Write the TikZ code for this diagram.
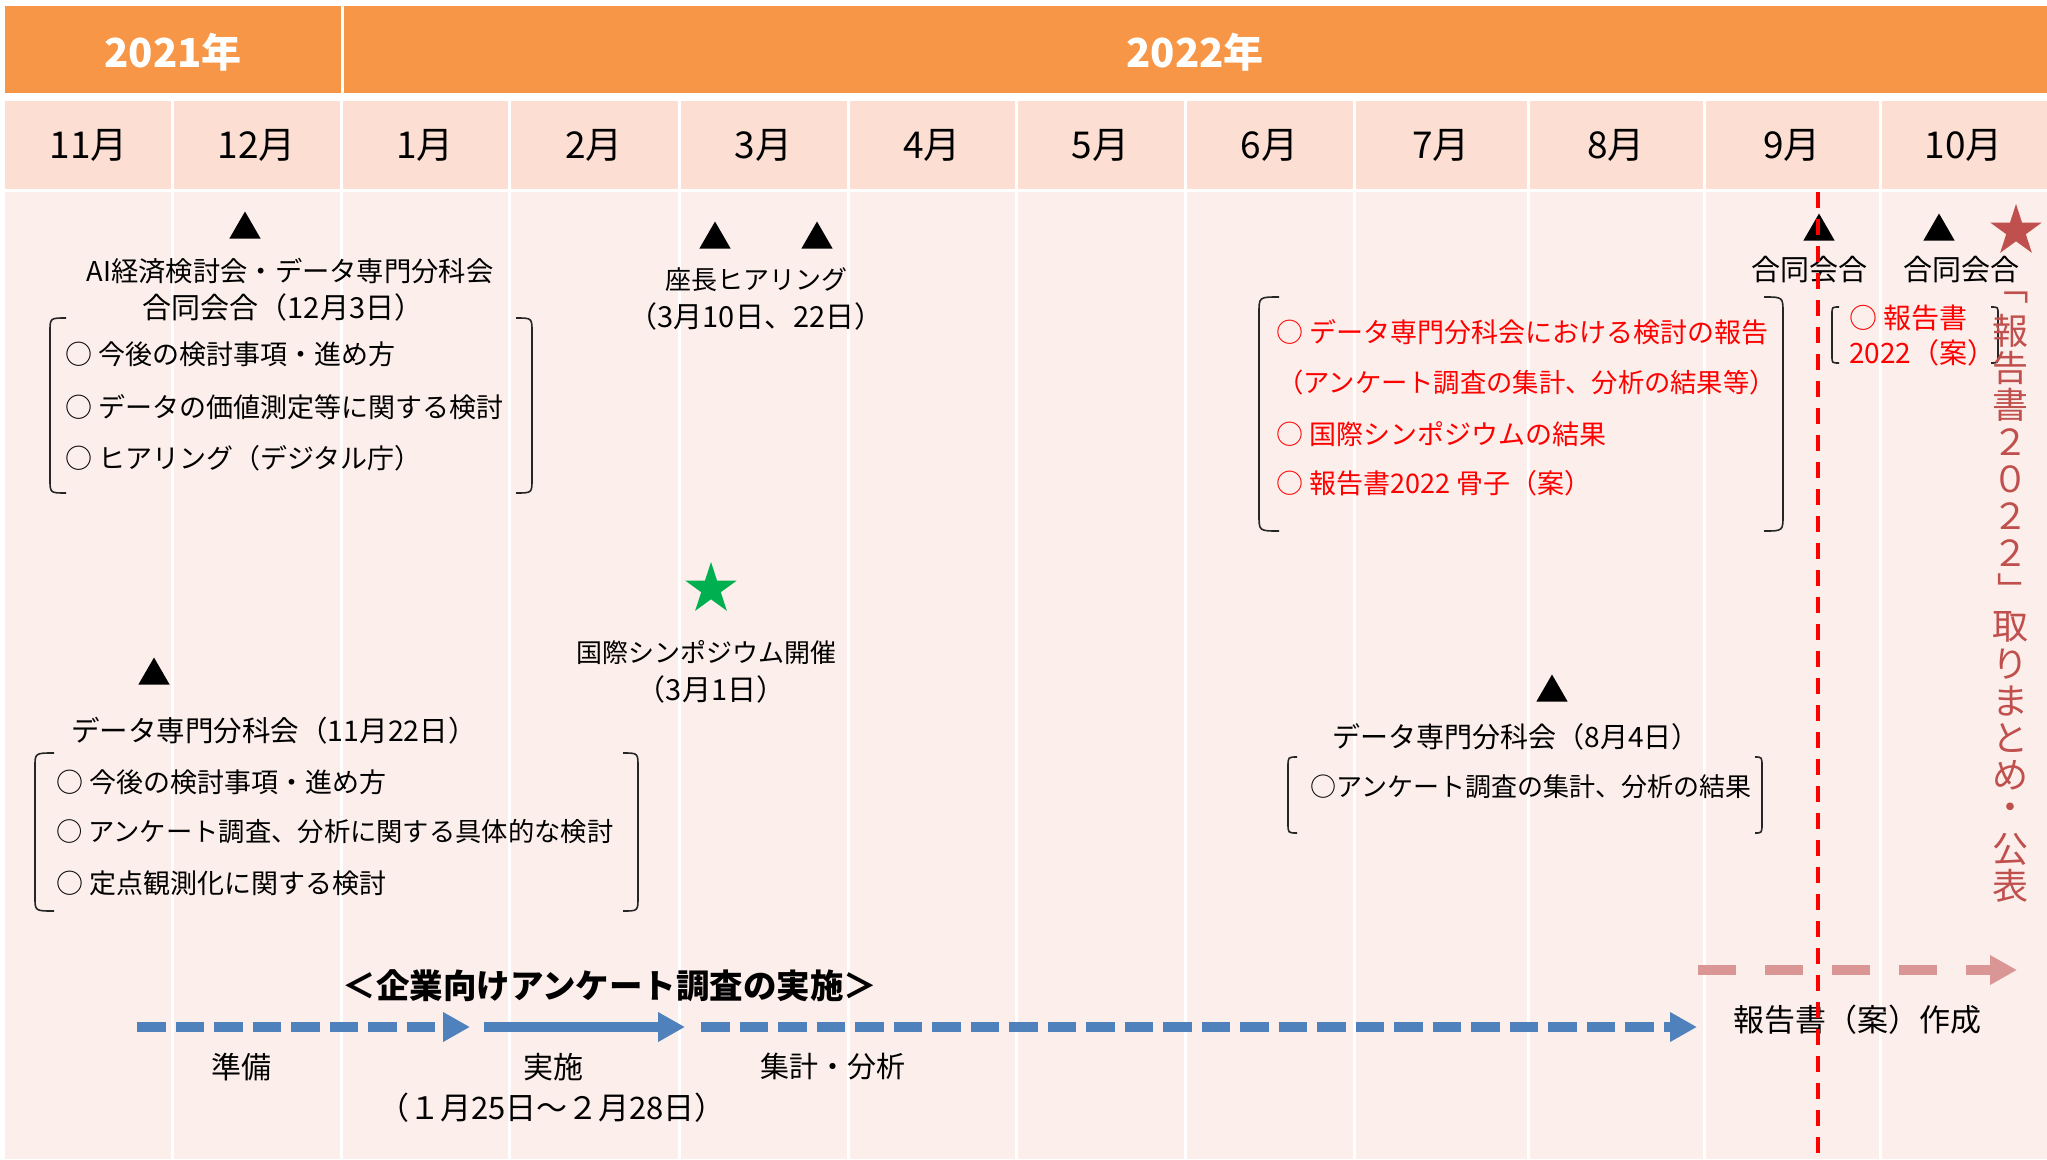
\documentclass[tikz,border=0pt]{standalone}
\usepackage{fontspec}
\setmainfont{Noto Sans CJK JP}
\usetikzlibrary{shapes.geometric,arrows.meta}
\definecolor{yearor}{HTML}{F79646}
\definecolor{monthbg}{HTML}{FCDED2}
\definecolor{bodybg}{HTML}{FCEFEB}
\definecolor{bluear}{HTML}{4F81BD}
\definecolor{pinkar}{HTML}{D99694}
\definecolor{repred}{HTML}{C0504D}
\definecolor{gstar}{HTML}{00B050}
\newcommand\bkpair[7]{%
  \draw[bk] (#2,#5) .. controls (#1,#5) .. (#1,#5+#7) -- (#1,#6-#7) .. controls (#1,#6) .. (#2,#6);
  \draw[bk] (#3,#5) .. controls (#4,#5) .. (#4,#5+#7) -- (#4,#6-#7) .. controls (#4,#6) .. (#3,#6);}
\begin{document}
\begin{tikzpicture}[x=1pt,y=-1pt,
  fs/.style={inner sep=0pt,font=\fontsize{#1}{#1}\selectfont},
  tri/.style={regular polygon,regular polygon sides=3,fill=black,draw=none,inner sep=0pt,minimum size=36pt},
  bk/.style={draw=black!85,line width=1.6pt},
  sep/.style={draw=white,line width=3pt},
  redtxt/.style={fs=27,text=red},
  vt/.style={fs=36,text=repred},
  bluedash/.style={draw=bluear,line width=10pt,dash pattern=on 28.5pt off 10pt,-{Triangle[length=27pt,width=28pt]}},
  bluesolid/.style={draw=bluear,line width=10pt,-{Triangle[length=27pt,width=28pt]}},
  pinkdash/.style={draw=pinkar,line width=10pt,dash pattern=on 38pt off 29pt,-{Triangle[length=27pt,width=28pt]}}]
\useasboundingbox (0,0) rectangle (2047,1159);
\fill[white] (0,0) rectangle (2047,1159);
% year band
\fill[yearor] (5,6) rectangle (2047,93);
\draw[sep] (342,6) -- (342,93);
\node[fs=40,font=\bfseries\fontsize{40}{40}\selectfont,text=white] (y21) at (173,52) {2021年};
\node[fs=40,font=\bfseries\fontsize{40}{40}\selectfont,text=white] (y22) at (1195,52) {2022年};
% month row and body
\fill[monthbg] (5,101) rectangle (2047,189);
\fill[bodybg] (5,192) rectangle (2047,1159);
\foreach \xb in {172,341,509,679,848,1016,1185,1354,1528,1704,1880} {
  \draw[sep] (\xb,101) -- (\xb,189);
  \draw[sep] (\xb,192) -- (\xb,1159);
}
\foreach \m/\xc in {11月/88.5,12月/256.5,1月/425,2月/594,3月/763.5,4月/932,5月/1100.5,6月/1269.5,7月/1441,8月/1616,9月/1792,10月/1963.5} {
  \node[fs=37] (m\xc) at (\xc,145) {\m};
}
% top-left group
\node[tri] (tA) at (245,229.5) {};
\node[fs=27.3] (aiA) at (290,271) {AI経済検討会・データ専門分科会};
\node[fs=29] (aiB) at (283,307) {合同会合（12月3日）};
\bkpair{50}{66}{516}{532}{318}{493}{14}
\node[fs=27,anchor=west] (aiC) at (65,354) {○ 今後の検討事項・進め方};
\node[fs=27,anchor=west] (aiD) at (65,407) {○ データの価値測定等に関する検討};
\node[fs=27,anchor=west] (aiE) at (65,458) {○ ヒアリング（デジタル庁）};
% March hearing
\node[tri] (tB) at (715,239.5) {};
\node[tri] (tC) at (817,239.5) {};
\node[fs=26] (zaA) at (756,280) {座長ヒアリング};
\node[fs=29] (zaB) at (756,316) {（3月10日、22日）};
% symposium
\node[star,star points=5,star point ratio=2.618,minimum size=54pt,inner sep=0pt,fill=gstar] (sG) at (711,589) {};
\node[fs=26] (syA) at (706,653) {国際シンポジウム開催};
\node[fs=29] (syB) at (711,689) {（3月1日）};
% bottom-left group
\node[tri] (tD) at (154,675.5) {};
\node[fs=28.5] (dbA) at (274,731) {データ専門分科会（11月22日）};
\bkpair{35}{54}{623}{638}{753}{911}{14}
\node[fs=27,anchor=west] (dbB) at (56,782) {○ 今後の検討事項・進め方};
\node[fs=26.3,anchor=west] (dbC) at (56,832) {○ アンケート調査、分析に関する具体的な検討};
\node[fs=27,anchor=west] (dbD) at (56,883) {○ 定点観測化に関する検討};
% red group
\bkpair{1259}{1279}{1764}{1783}{297}{531}{16}
\node[redtxt,anchor=west] (rA) at (1276,332) {○ データ専門分科会における検討の報告};
\node[redtxt,fs=26.3,anchor=west] (rB) at (1277,383) {（アンケート調査の集計、分析の結果等）};
\node[redtxt,anchor=west] (rC) at (1276,434) {○ 国際シンポジウムの結果};
\node[redtxt,anchor=west] (rD) at (1276,483) {○ 報告書2022 骨子（案）};
% August group
\node[tri] (tE) at (1552,692.5) {};
\node[fs=28] (auA) at (1516,737) {データ専門分科会（8月4日）};
\bkpair{1288}{1297}{1755}{1762}{757}{833}{10}
\node[fs=26,anchor=west] (auB) at (1310,787) {○アンケート調査の集計、分析の結果};
% joint meetings
\node[tri] (tF) at (1819,231.5) {};
\node[tri] (tG) at (1939,231.5) {};
\node[fs=29] (jA) at (1809,270) {合同会合};
\node[fs=29] (jB) at (1961,270) {合同会合};
\bkpair{1832}{1839}{1991}{1998}{307}{363}{7}
\node[fs=28,text=red,anchor=west] (jC) at (1849,318) {○ 報告書};
\node[fs=28,text=red,anchor=west] (jD) at (1849,353) {2022（案）};
% final report star and vertical text
\node[star,star points=5,star point ratio=2.618,minimum size=54pt,inner sep=0pt,fill=repred] (sR) at (2016,231) {};
\node[vt,rotate=-90] (vq1) at (2013,286) {「};
\foreach \c/\yy in {報/331,告/368,書/405,２/442,０/479,２/516,２/553,取/627,り/664,ま/701,と/738,め/775,・/812,公/849,表/886} {
  \node[vt] (v\yy) at (2010,\yy) {\c};
}
\node[vt,rotate=-90] (vq2) at (2010,590) {」};
% survey timeline
\node[fs=33.5,font=\bfseries\fontsize{33.5}{33.5}\selectfont] (svT) at (610,986) {＜企業向けアンケート調査の実施＞};
\coordinate (b1s) at (137,1027);
\coordinate (b1e) at (470,1027);
\coordinate (b2s) at (484,1027);
\coordinate (b2e) at (685,1027);
\coordinate (b3s) at (701,1027);
\coordinate (b3e) at (1697,1027);
\draw[bluedash] (b1s) -- (b1e);
\draw[bluesolid] (b2s) -- (b2e);
\draw[bluedash] (b3s) -- (b3e);
\node[fs=30] (lbA) at (241,1067) {準備};
\node[fs=30] (lbB) at (553,1067) {実施};
\node[fs=31] (lbC) at (552,1108) {（１月25日～２月28日）};
\node[fs=29] (lbD) at (833,1067) {集計・分析};
\coordinate (p1s) at (1698,970);
\coordinate (p1e) at (2017,970);
\draw[pinkdash] (p1s) -- (p1e);
\node[fs=31] (lbE) at (1857,1020) {報告書（案）作成};
% red dashed line
\coordinate (rl1) at (1818,192);
\coordinate (rl2) at (1818,1159);
\draw[red,line width=4pt,dash pattern=on 16pt off 11pt] (rl1) -- (rl2);
\end{tikzpicture}
\end{document}
